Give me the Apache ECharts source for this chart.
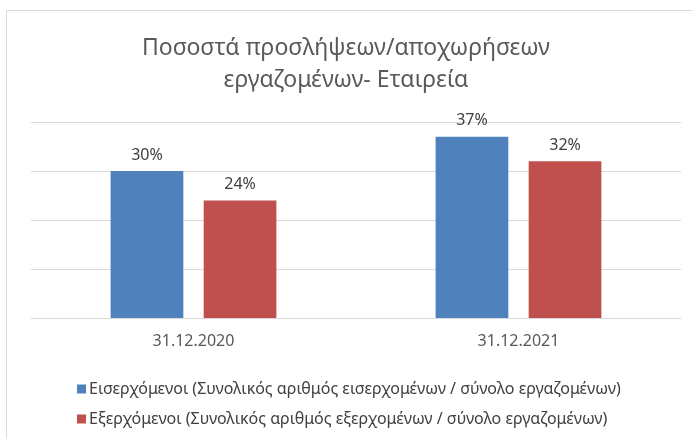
<!DOCTYPE html>
<html>
<head>
<meta charset="utf-8">
<script src="https://cdn.jsdelivr.net/npm/echarts@6/dist/echarts.min.js"></script>
<style>
  html, body { margin: 0; padding: 0; background: #fff; }
  #main { width: 692px; height: 439px; }
</style>
</head>
<body>
<div id="main"></div>
<script>
// κατηγορίες και τιμές (ποσοστά)
const categories = ['31.12.2020', '31.12.2021']
const incoming = [30, 37]
const outgoing = [24, 32]
const seriesNames = [
  'Εισερχόμενοι (Συνολικός αριθμός εισερχομένων / σύνολο εργαζομένων)',
  'Εξερχόμενοι (Συνολικός αριθμός εξερχομένων / σύνολο εργαζομένων)'
]
const titleText = 'Ποσοστά προσλήψεων/αποχωρήσεων\nεργαζομένων- Εταιρεία'

const font = '"Noto Sans", "Open Sans", sans-serif'
const chart = echarts.init(document.getElementById('main'))
const option = {
  animation: false,
  backgroundColor: '#fff',
  textStyle: { fontFamily: font },
  graphic: [{
    type: 'rect',
    shape: { x: 6.5, y: 10.5, width: 700, height: 440 },
    style: { fill: 'none', stroke: '#d9d9d9', lineWidth: 1 },
    silent: true
  }],
  title: {
    text: titleText,
    left: 'center',
    top: 27,
    textStyle: {
      fontFamily: font,
      fontSize: 23,
      fontWeight: 'normal',
      color: '#595959',
      lineHeight: 32
    }
  },
  legend: {
    orient: 'vertical',
    left: 72,
    top: 374,
    itemWidth: 9,
    itemHeight: 9,
    itemGap: 10,
    icon: 'rect',
    data: seriesNames,
    textStyle: { fontFamily: font, fontSize: 16, color: '#404040', padding: [0, 0, 0, -2], lineHeight: 20 }
  },
  grid: { left: 31, right: 11, top: 122, bottom: 121, containLabel: false },
  xAxis: {
    type: 'category',
    data: categories,
    axisLine: { lineStyle: { color: '#d9d9d9' } },
    axisTick: { show: false },
    axisLabel: { fontFamily: font, fontSize: 16, color: '#595959', margin: 15 }
  },
  yAxis: {
    type: 'value',
    min: 0,
    max: 40,
    interval: 10,
    axisLabel: { show: false },
    axisLine: { show: false },
    axisTick: { show: false },
    splitLine: { lineStyle: { color: '#d9d9d9' } }
  },
  series: [
    {
      name: seriesNames[0],
      type: 'bar',
      data: incoming,
      itemStyle: { color: '#4f81bd' },
      barGap: '28%',
      barCategoryGap: '49%',
      label: { show: true, position: 'top', formatter: '{c}%', fontFamily: font, fontSize: 16, color: '#404040', distance: 8 }
    },
    {
      name: seriesNames[1],
      type: 'bar',
      data: outgoing,
      itemStyle: { color: '#c0504d' },
      barGap: '28%',
      barCategoryGap: '49%',
      label: { show: true, position: 'top', formatter: '{c}%', fontFamily: font, fontSize: 16, color: '#404040', distance: 8 }
    }
  ]
}
option && chart.setOption(option)
</script>
</body>
</html>
